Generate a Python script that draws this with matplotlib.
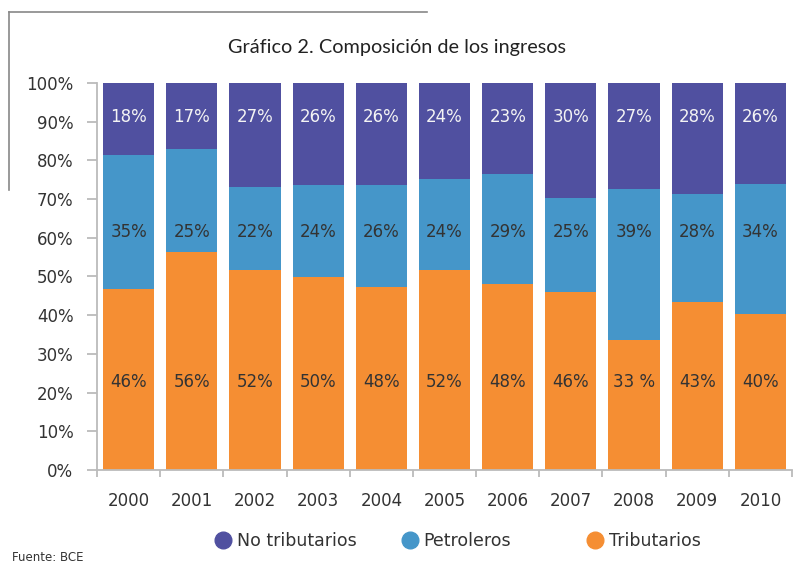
import matplotlib.pyplot as plt
from matplotlib.lines import Line2D
import numpy as np

# composicion de los ingresos, shares (%)
years = ['2000', '2001', '2002', '2003', '2004', '2005',
         '2006', '2007', '2008', '2009', '2010']
tributarios = [46.8, 56.4, 51.8, 49.9, 47.4, 51.8, 48.1, 46.1, 33.7, 43.5, 40.4]
petroleros = [34.6, 26.5, 21.3, 23.7, 26.2, 23.4, 28.4, 24.2, 38.9, 27.8, 33.5]
no_tributarios = [18.6, 17.1, 26.9, 26.4, 26.4, 24.8, 23.5, 29.7, 27.4, 28.7, 26.1]

# labels as printed on the chart
lab_trib = ['46%', '56%', '52%', '50%', '48%', '52%', '48%', '46%', '33 %', '43%', '40%']
lab_petr = ['35%', '25%', '22%', '24%', '26%', '24%', '29%', '25%', '39%', '28%', '34%']
lab_notrib = ['18%', '17%', '27%', '26%', '26%', '24%', '23%', '30%', '27%', '28%', '26%']

c_trib = '#F58E33'
c_petr = '#4596C9'
c_notrib = '#5050A0'
txt = '#333333'
grey = '#BBBBBB'

plt.rcParams['font.family'] = ['DejaVu Sans']

fig = plt.figure(figsize=(7.98, 5.63), dpi=100)
ax = fig.add_axes([0.1216, 0.1652, 0.8709, 0.6874])

x = np.arange(len(years))
w = 0.81
b1 = np.array(tributarios)
b2 = b1 + np.array(petroleros)
ax.bar(x, tributarios, w, color=c_trib, label='Tributarios')
ax.bar(x, petroleros, w, bottom=b1, color=c_petr, label='Petroleros')
ax.bar(x, no_tributarios, w, bottom=b2, color=c_notrib, label='No tributarios')

# labels sit at fixed heights in the original
for i in range(len(years)):
    ax.text(x[i], 22.7, lab_trib[i], ha='center', va='center', fontsize=12, color=txt)
    ax.text(x[i], 61.5, lab_petr[i], ha='center', va='center', fontsize=12, color=txt)
    ax.text(x[i], 91.2, lab_notrib[i], ha='center', va='center', fontsize=12, color='#F4F4F4')

ax.set_xlim(-0.5, len(years) - 0.5)
ax.set_ylim(0, 100)
ax.set_yticks(np.arange(0, 101, 10))
ax.set_yticklabels([str(v) + '%' for v in range(0, 101, 10)])
ax.set_xticks(x)
ax.set_xticklabels(years)
ax.set_xticks(np.arange(-0.5, len(years)), minor=True)

for s in ['top', 'right']:
    ax.spines[s].set_visible(False)
for s in ['left', 'bottom']:
    ax.spines[s].set_color(grey)
    ax.spines[s].set_linewidth(1.3)

ax.tick_params(axis='y', length=7, width=1.3, color=grey, pad=10,
               labelsize=12, labelcolor=txt)
ax.tick_params(axis='x', which='major', length=0, pad=16, labelsize=12, labelcolor=txt)
ax.tick_params(axis='x', which='minor', length=5, width=1.3, color=grey)

fig.text(0.4975, 0.9165, 'Gráfico 2. Composición de los ingresos',
         ha='center', va='center', fontsize=14.3, color='#222222', family='Lato')

# frame lines at the top left
fig.add_artist(Line2D([9 / 798, 427 / 798], [1 - 12 / 563, 1 - 12 / 563],
                      color='#888888', lw=1.2))
fig.add_artist(Line2D([9 / 798, 9 / 798], [1 - 12 / 563, 1 - 190 / 563],
                      color='#888888', lw=1.2))

# legend, three spaced entries
items = [('No tributarios', c_notrib, 214), ('Petroleros', c_petr, 401),
         ('Tributarios', c_trib, 586)]
for name, col, px in items:
    h = Line2D([], [], marker='o', linestyle='', markersize=12, color=col)
    leg = fig.legend(handles=[h], labels=[name], loc='center left',
                     bbox_to_anchor=(px / 798, 1 - 541 / 563), frameon=False,
                     fontsize=12.5, handletextpad=0.3, handlelength=1.0,
                     borderpad=0, borderaxespad=0)
    for t in leg.get_texts():
        t.set_color(txt)

fig.text(12 / 798, 1 - 551 / 563, 'Fuente: BCE', ha='left', va='top',
         fontsize=8.5, color=txt)

plt.savefig('out.png', dpi=100)
